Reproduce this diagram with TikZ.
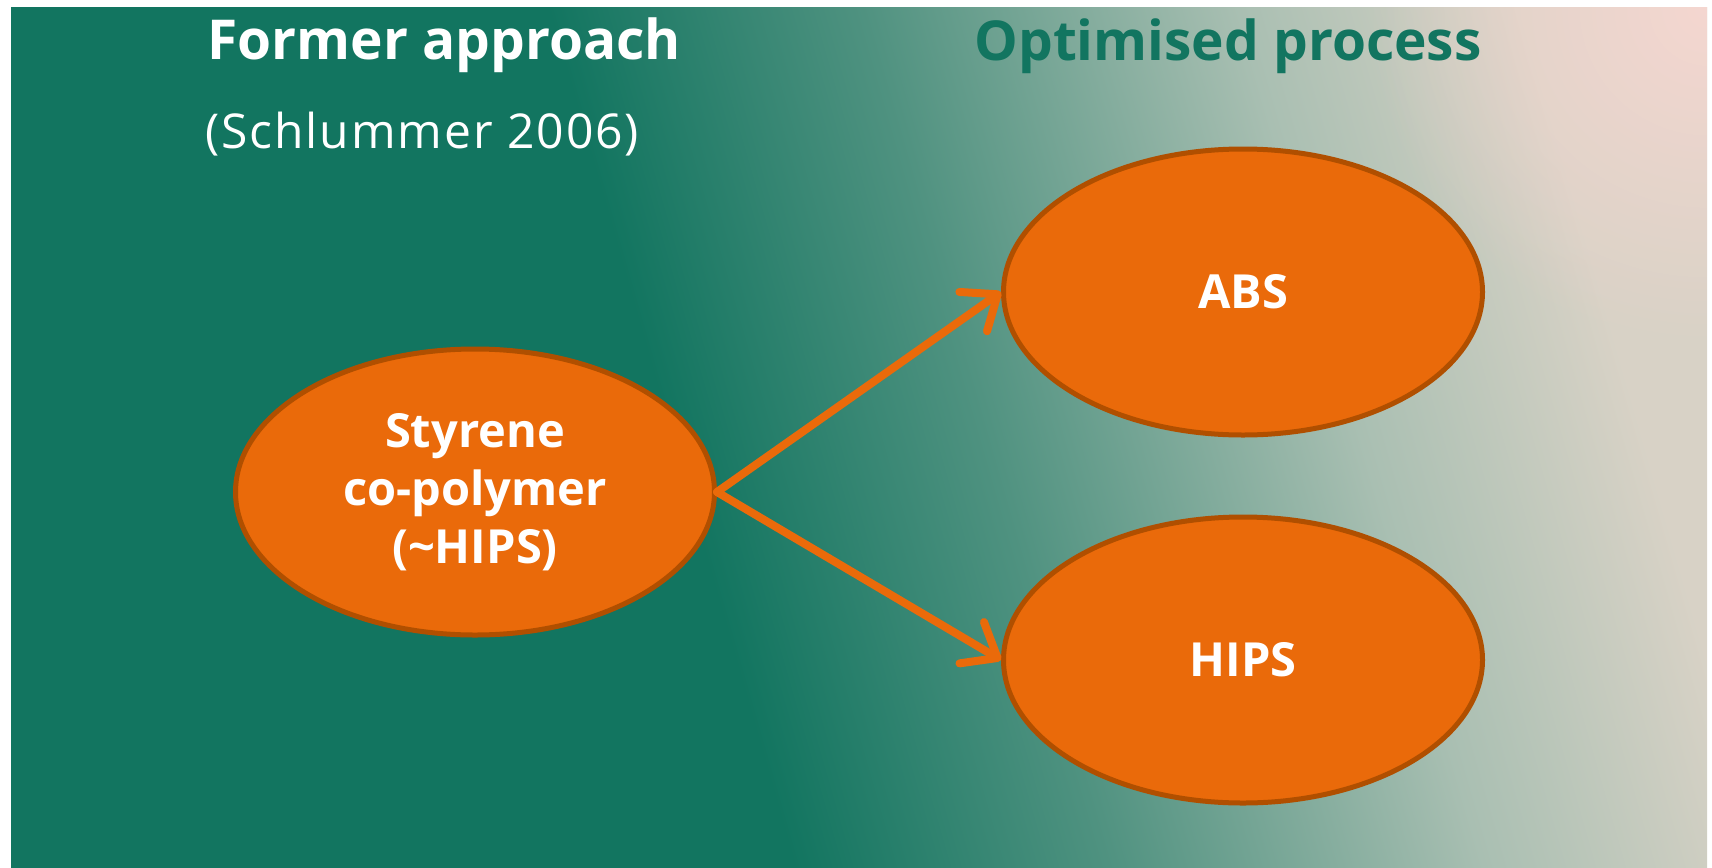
\documentclass[tikz,border=0pt]{standalone}
\usepackage{fontspec}
\setmainfont{Open Sans}
\newfontfamily\widefont{Open Sans}[LetterSpace=4]
\usetikzlibrary{shapes.geometric,arrows.meta,fadings}
\definecolor{fhgreen}{HTML}{127560}
\definecolor{fhmid}{HTML}{4F9280}
\definecolor{fhpale}{HTML}{A9BFB2}
\definecolor{fhsand}{HTML}{D8D2C6}
\definecolor{fhpink}{HTML}{FCD8D3}
\definecolor{polyfill}{HTML}{EA6A0A}
\definecolor{polyline}{HTML}{B04F00}
\pgfdeclarehorizontalshading{bgfade}{100bp}{color(0bp)=(fhgreen); color(25bp)=(fhgreen); color(44bp)=(fhgreen); color(54bp)=(fhmid); color(66bp)=(fhpale); color(75bp)=(fhsand); color(100bp)=(fhsand)}
\tikzfading[name=glow, inner color=transparent!0, outer color=transparent!100]
\tikzset{
  poly/.style={ellipse, draw=polyline, fill=polyfill, line width=2.5pt,
    minimum width=239.5pt, minimum height=143pt, inner sep=0pt,
    text=white, align=center, font=\bfseries\fontsize{23.5}{29}\selectfont},
  feed/.style={draw=polyfill, line width=4pt, line cap=round,
    -{Straight Barb[length=15pt,width=24pt,round]}},
  heading/.style={anchor=base west, inner sep=0pt, font=\bfseries\fontsize{27.5}{34}\selectfont}
}
\begin{document}
\begin{tikzpicture}[x=0.5pt, y=-0.5pt]
    \useasboundingbox (0,0) rectangle (1712,867);
    \shade[shading=bgfade, shading angle=16] (11,7) rectangle (1707,867);
    \begin{scope}
        \clip (11,7) rectangle (1707,867);
        \fill[fhpink, opacity=0.8, path fading=glow] (1707,7) circle (170pt);
    \end{scope}
    \node[heading, text=white] (former) at (207,59) {Former approach};
    \node[anchor=base west, inner sep=0pt, text=white, font=\widefont\fontsize{24}{28}\selectfont] (source) at (205,148) {(Schlummer 2006)};
    \node[heading, text=fhgreen] (optimised) at (974,60) {Optimised process};
    \node[poly] (styrene) at (475,492) {Styrene\\co-polymer\\(\textasciitilde HIPS)};
    \node[poly] (abs) at (1243,292) {ABS};
    \node[poly] (hips) at (1243,660) {HIPS};
    \draw[feed] (styrene.east) -- (abs.west);
    \draw[feed] (styrene.east) -- (hips.west);
\end{tikzpicture}
\end{document}
